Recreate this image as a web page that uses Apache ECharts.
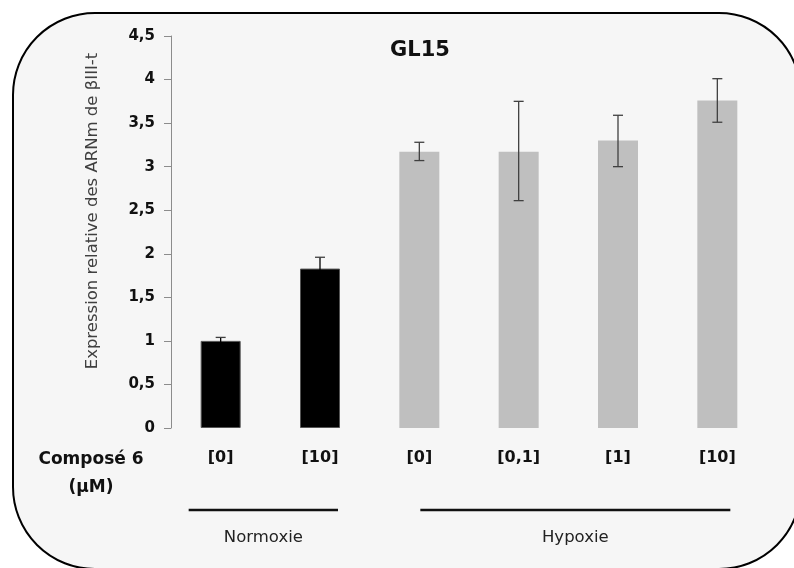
<!DOCTYPE html>
<html>
<head>
<meta charset="utf-8">
<script src="https://cdn.jsdelivr.net/npm/echarts@6/dist/echarts.min.js"></script>
<style>
  html, body { margin: 0; padding: 0; background: #ffffff; }
  #chart { width: 794px; height: 568px; }
</style>
</head>
<body>
<div id="chart"></div>
<script>
const categories = ['[0]', '[10]', '[0]', '[0,1]', '[1]', '[10]'];
const barGroups = ['Normoxie', 'Normoxie', 'Hypoxie', 'Hypoxie', 'Hypoxie', 'Hypoxie'];
const values = [1.0, 1.83, 3.17, 3.17, 3.30, 3.76];
const errLow = [0.96, 1.70, 3.07, 2.61, 3.00, 3.51];
const errHigh = [1.04, 1.96, 3.28, 3.75, 3.59, 4.01];
const yTicks = [0, 0.5, 1, 1.5, 2, 2.5, 3, 3.5, 4, 4.5];
const groupNames = ['Normoxie', 'Hypoxie'];
const groupColors = { Normoxie: '#000000', Hypoxie: '#bfbfbf' };

const FONT = '"DejaVu Sans", sans-serif';
const chart = echarts.init(document.getElementById('chart'));

const barData = values.map((v, i) => ({
    value: v,
    itemStyle: {
        color: groupColors[barGroups[i]],
        borderColor: barGroups[i] === 'Normoxie' ? '#555555' : 'transparent',
        borderWidth: barGroups[i] === 'Normoxie' ? 1 : 0
    }
}));

const errData = values.map((v, i) => [i, errLow[i], errHigh[i]]);

function renderError(params, api) {
    const x = api.value(0);
    const top = api.coord([x, api.value(2)]);
    const bot = api.coord([x, api.value(1)]);
    const half = 5;
    // on the black bars the part inside the bar just disappears
    const dark = barGroups[params.dataIndex] === 'Normoxie';
    const style = { stroke: dark ? '#000000' : '#404040', lineWidth: 1.3 };
    const capStyle = { stroke: '#404040', lineWidth: 1.3 };
    return {
        type: 'group',
        children: [
            { type: 'line', shape: { x1: top[0], y1: top[1], x2: bot[0], y2: bot[1] }, style },
            { type: 'line', shape: { x1: top[0] - half, y1: top[1], x2: top[0] + half, y2: top[1] }, style: capStyle },
            { type: 'line', shape: { x1: bot[0] - half, y1: bot[1], x2: bot[0] + half, y2: bot[1] }, style }
        ]
    };
}

chart.setOption({
    animation: false,
    backgroundColor: '#ffffff',
    title: {
        text: 'GL15',
        left: 415,
        top: 35,
        textAlign: 'center',
        textStyle: { fontFamily: FONT, fontSize: 21, fontWeight: 'bold', color: '#111' }
    },
    grid: { left: 171, right: 27, top: 36, bottom: 140 },
    xAxis: {
        type: 'category',
        data: categories,
        axisLine: { show: false },
        axisTick: { show: false },
        axisLabel: {
            margin: 22,
            fontFamily: FONT,
            fontSize: 16,
            fontWeight: 'bold',
            color: '#111'
        }
    },
    yAxis: {
        type: 'value',
        min: 0,
        max: yTicks[yTicks.length - 1],
        interval: yTicks[1] - yTicks[0],
        splitLine: { show: false },
        axisLine: { show: true, lineStyle: { color: '#8c8c8c', width: 1 } },
        axisTick: { show: true, length: 7, lineStyle: { color: '#8c8c8c' } },
        axisLabel: {
            margin: 16,
            fontFamily: FONT,
            fontSize: 15,
            fontWeight: 'bold',
            color: '#111',
            formatter: v => String(v).replace('.', ',')
        }
    },
    series: [
        {
            type: 'bar',
            data: barData,
            barWidth: 40,
            z: 2
        },
        {
            type: 'custom',
            renderItem: renderError,
            data: errData,
            z: 3
        }
    ]
});

// background panel, side label and group brackets
function groupSpan(name) {
    const idx = barGroups.map((g, i) => g === name ? i : -1).filter(i => i >= 0);
    const a = chart.convertToPixel({ xAxisIndex: 0 }, idx[0]);
    const b = chart.convertToPixel({ xAxisIndex: 0 }, idx[idx.length - 1]);
    return [a, b];
}

const [n0, n1] = groupSpan('Normoxie');
const [h0, h1] = groupSpan('Hypoxie');
const spans = { Normoxie: [n0 - 32, n1 + 18], Hypoxie: [h0 + 1, h1 + 13] };

const graphics = [
    {
        type: 'rect',
        z: -10,
        silent: true,
        shape: { x: 13, y: 13, width: 788, height: 556, r: 82 },
        style: { fill: '#f6f6f6', stroke: '#000000', lineWidth: 2 }
    },
    {
        type: 'text',
        x: 93, y: 211,
        rotation: Math.PI / 2,
        style: {
            text: 'Expression relative des ARNm de βIII-t',
            font: '16.5px ' + FONT,
            fill: '#404040',
            align: 'center',
            verticalAlign: 'middle'
        }
    },
    {
        type: 'text',
        x: 91, y: 460,
        style: { text: 'Composé 6', font: 'bold 17px ' + FONT, fill: '#111', align: 'center', verticalAlign: 'middle' }
    },
    {
        type: 'text',
        x: 91, y: 488,
        style: { text: '(µM)', font: 'bold 17px ' + FONT, fill: '#111', align: 'center', verticalAlign: 'middle' }
    }
];

groupNames.forEach(name => {
    const [x1, x2] = spans[name];
    graphics.push({
        type: 'line',
        shape: { x1, y1: 510, x2, y2: 510 },
        style: { stroke: '#111', lineWidth: 2.5 }
    });
    graphics.push({
        type: 'text',
        x: (x1 + x2) / 2, y: 538,
        style: { text: name, font: '16.5px ' + FONT, fill: '#222', align: 'center', verticalAlign: 'middle' }
    });
});

chart.setOption({ graphic: graphics });
</script>
</body>
</html>
